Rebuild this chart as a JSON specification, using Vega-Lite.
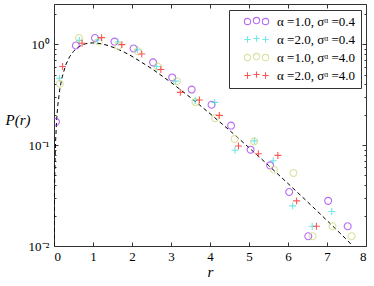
{
  "$schema": "https://vega.github.io/schema/vega-lite/v6.json",
  "autosize": {"type": "none"},
  "width": 312,
  "height": 242,
  "padding": {"left": 54, "top": 4, "right": 8, "bottom": 40},
  "background": "white",
  "config": {
    "view": {"stroke": "#333", "strokeWidth": 1},
    "font": "Liberation Serif",
    "axis": {
      "grid": false,
      "domain": false,
      "tickColor": "#333",
      "labelFont": "Liberation Serif",
      "labelFontSize": 13,
      "labelColor": "#000",
      "titleFont": "Liberation Serif",
      "titleFontSize": 15,
      "titleFontWeight": "normal",
      "titleFontStyle": "italic",
      "titleColor": "#000"
    },
    "legend": {
      "labelFont": "Liberation Serif",
      "labelFontSize": 13,
      "labelColor": "#000"
    }
  },
  "datasets": {
    "curve": [
      {"r": 0.0036, "P": 0.01},
      {"r": 0.01, "P": 0.0277},
      {"r": 0.02, "P": 0.0549},
      {"r": 0.04, "P": 0.1076},
      {"r": 0.07, "P": 0.1827},
      {"r": 0.1, "P": 0.2534},
      {"r": 0.15, "P": 0.3615},
      {"r": 0.2, "P": 0.4585},
      {"r": 0.3, "P": 0.6223},
      {"r": 0.4, "P": 0.7508},
      {"r": 0.5, "P": 0.8491},
      {"r": 0.6, "P": 0.922},
      {"r": 0.7, "P": 0.9733},
      {"r": 0.8, "P": 1.0065},
      {"r": 0.9, "P": 1.0247},
      {"r": 1.0, "P": 1.0301},
      {"r": 1.2, "P": 1.012},
      {"r": 1.4, "P": 0.9667},
      {"r": 1.6, "P": 0.9045},
      {"r": 1.8, "P": 0.8331},
      {"r": 2.0, "P": 0.7579},
      {"r": 2.5, "P": 0.5746},
      {"r": 3.0, "P": 0.4182},
      {"r": 3.5, "P": 0.2959},
      {"r": 4.0, "P": 0.2051},
      {"r": 4.5, "P": 0.14},
      {"r": 5.0, "P": 0.0943},
      {"r": 5.5, "P": 0.0629},
      {"r": 6.0, "P": 0.0416},
      {"r": 6.5, "P": 0.0274},
      {"r": 7.0, "P": 0.0179},
      {"r": 7.5, "P": 0.0116},
      {"r": 7.66, "P": 0.01}
    ],
    "pts": [
      {"s": "α =1.0, σᵅ =0.4", "a": 1, "r": 0.05, "P": 0.17},
      {"s": "α =1.0, σᵅ =0.4", "a": 1, "r": 0.56, "P": 0.97},
      {"s": "α =1.0, σᵅ =0.4", "a": 1, "r": 1.05, "P": 1.15},
      {"s": "α =1.0, σᵅ =0.4", "a": 1, "r": 1.55, "P": 1.06},
      {"s": "α =1.0, σᵅ =0.4", "a": 1, "r": 2.04, "P": 0.905},
      {"s": "α =1.0, σᵅ =0.4", "a": 1, "r": 2.54, "P": 0.66},
      {"s": "α =1.0, σᵅ =0.4", "a": 1, "r": 3.03, "P": 0.468},
      {"s": "α =1.0, σᵅ =0.4", "a": 1, "r": 3.53, "P": 0.355},
      {"s": "α =1.0, σᵅ =0.4", "a": 1, "r": 4.04, "P": 0.251},
      {"s": "α =1.0, σᵅ =0.4", "a": 1, "r": 4.54, "P": 0.156},
      {"s": "α =1.0, σᵅ =0.4", "a": 1, "r": 5.04, "P": 0.09},
      {"s": "α =1.0, σᵅ =0.4", "a": 1, "r": 5.54, "P": 0.063},
      {"s": "α =1.0, σᵅ =0.4", "a": 1, "r": 6.03, "P": 0.0343},
      {"s": "α =1.0, σᵅ =0.4", "a": 1, "r": 6.52, "P": 0.0125},
      {"s": "α =1.0, σᵅ =0.4", "a": 1, "r": 7.03, "P": 0.028},
      {"s": "α =1.0, σᵅ =0.4", "a": 1, "r": 7.53, "P": 0.0157},
      {"s": "α =2.0, σᵅ =0.4", "a": 2, "r": 0.14, "P": 0.46},
      {"s": "α =2.0, σᵅ =0.4", "a": 2, "r": 0.65, "P": 1.09},
      {"s": "α =2.0, σᵅ =0.4", "a": 2, "r": 1.12, "P": 1.1},
      {"s": "α =2.0, σᵅ =0.4", "a": 2, "r": 1.64, "P": 1.05},
      {"s": "α =2.0, σᵅ =0.4", "a": 2, "r": 2.14, "P": 0.88},
      {"s": "α =2.0, σᵅ =0.4", "a": 2, "r": 2.63, "P": 0.6},
      {"s": "α =2.0, σᵅ =0.4", "a": 2, "r": 3.12, "P": 0.43},
      {"s": "α =2.0, σᵅ =0.4", "a": 2, "r": 3.62, "P": 0.277},
      {"s": "α =2.0, σᵅ =0.4", "a": 2, "r": 4.12, "P": 0.265},
      {"s": "α =2.0, σᵅ =0.4", "a": 2, "r": 4.64, "P": 0.089},
      {"s": "α =2.0, σᵅ =0.4", "a": 2, "r": 5.14, "P": 0.11},
      {"s": "α =2.0, σᵅ =0.4", "a": 2, "r": 5.62, "P": 0.07},
      {"s": "α =2.0, σᵅ =0.4", "a": 2, "r": 6.12, "P": 0.025},
      {"s": "α =2.0, σᵅ =0.4", "a": 2, "r": 6.62, "P": 0.0157},
      {"s": "α =2.0, σᵅ =0.4", "a": 2, "r": 7.12, "P": 0.022},
      {"s": "α =1.0, σᵅ =4.0", "a": 1, "r": 0.15, "P": 0.405},
      {"s": "α =1.0, σᵅ =4.0", "a": 1, "r": 0.64, "P": 1.15},
      {"s": "α =1.0, σᵅ =4.0", "a": 1, "r": 1.15, "P": 1.06},
      {"s": "α =1.0, σᵅ =4.0", "a": 1, "r": 1.65, "P": 0.96},
      {"s": "α =1.0, σᵅ =4.0", "a": 1, "r": 2.15, "P": 0.85},
      {"s": "α =1.0, σᵅ =4.0", "a": 1, "r": 2.66, "P": 0.6},
      {"s": "α =1.0, σᵅ =4.0", "a": 1, "r": 3.15, "P": 0.43},
      {"s": "α =1.0, σᵅ =4.0", "a": 1, "r": 3.63, "P": 0.267},
      {"s": "α =1.0, σᵅ =4.0", "a": 1, "r": 4.13, "P": 0.185},
      {"s": "α =1.0, σᵅ =4.0", "a": 1, "r": 4.63, "P": 0.115},
      {"s": "α =1.0, σᵅ =4.0", "a": 1, "r": 5.13, "P": 0.109},
      {"s": "α =1.0, σᵅ =4.0", "a": 1, "r": 5.64, "P": 0.057},
      {"s": "α =1.0, σᵅ =4.0", "a": 1, "r": 6.14, "P": 0.053},
      {"s": "α =1.0, σᵅ =4.0", "a": 1, "r": 6.63, "P": 0.0125},
      {"s": "α =1.0, σᵅ =4.0", "a": 1, "r": 7.14, "P": 0.0157},
      {"s": "α =1.0, σᵅ =4.0", "a": 1, "r": 7.63, "P": 0.0125},
      {"s": "α =2.0, σᵅ =4.0", "a": 2, "r": 0.22, "P": 0.6},
      {"s": "α =2.0, σᵅ =4.0", "a": 2, "r": 0.72, "P": 1.02},
      {"s": "α =2.0, σᵅ =4.0", "a": 2, "r": 1.22, "P": 1.16},
      {"s": "α =2.0, σᵅ =4.0", "a": 2, "r": 1.74, "P": 0.99},
      {"s": "α =2.0, σᵅ =4.0", "a": 2, "r": 2.25, "P": 0.8},
      {"s": "α =2.0, σᵅ =4.0", "a": 2, "r": 2.74, "P": 0.56},
      {"s": "α =2.0, σᵅ =4.0", "a": 2, "r": 3.24, "P": 0.333},
      {"s": "α =2.0, σᵅ =4.0", "a": 2, "r": 3.73, "P": 0.28},
      {"s": "α =2.0, σᵅ =4.0", "a": 2, "r": 4.24, "P": 0.197},
      {"s": "α =2.0, σᵅ =4.0", "a": 2, "r": 4.73, "P": 0.098},
      {"s": "α =2.0, σᵅ =4.0", "a": 2, "r": 5.24, "P": 0.082},
      {"s": "α =2.0, σᵅ =4.0", "a": 2, "r": 5.74, "P": 0.079},
      {"s": "α =2.0, σᵅ =4.0", "a": 2, "r": 6.22, "P": 0.028},
      {"s": "α =2.0, σᵅ =4.0", "a": 2, "r": 6.73, "P": 0.0157}
    ]
  },
  "resolve": {"axis": {"x": "independent", "y": "independent"}},
  "layer": [
    {
      "data": {"name": "curve"},
      "mark": {"type": "line", "color": "#000", "strokeWidth": 1, "strokeDash": [4, 3], "clip": true},
      "encoding": {
        "x": {
          "field": "r", "type": "quantitative",
          "scale": {"domain": [0, 8], "nice": false, "zero": false},
          "axis": {
            "orient": "bottom", "title": "r", "values": [0, 1, 2, 3, 4, 5, 6, 7, 8],
            "tickSize": -4, "labelPadding": 8, "titleY": 30, "titleBaseline": "alphabetic"
          }
        },
        "y": {
          "field": "P", "type": "quantitative",
          "scale": {"type": "log", "domain": [0.01, 2.5], "nice": false},
          "axis": {
            "orient": "left", "title": "P(r)",
            "values": [0.01, 0.02, 0.03, 0.04, 0.05, 0.06, 0.07, 0.08, 0.09, 0.1, 0.2, 0.3, 0.4, 0.5, 0.6, 0.7, 0.8, 0.9, 1, 2],
            "labelExpr": "datum.value == 1 ? '10⁰' : datum.value == 0.1 ? '10⁻¹' : datum.value == 0.01 ? '10⁻²' : ''",
            "tickSize": {"condition": {"test": "datum.value == 1 || datum.value == 0.1 || datum.value == 0.01", "value": -4}, "value": -2},
            "labelPadding": 9,
            "titleAngle": 0, "titleX": -49, "titleY": 115, "titleAlign": "left", "titleBaseline": "middle"
          }
        }
      }
    },
    {
      "data": {"name": "pts"},
      "mark": {"type": "point", "filled": false, "strokeWidth": 1.1, "size": 48, "clip": true},
      "encoding": {
        "x": {
          "field": "r", "type": "quantitative",
          "axis": {"orient": "top", "title": null, "labels": false, "values": [0, 1, 2, 3, 4, 5, 6, 7, 8], "tickSize": -4}
        },
        "y": {
          "field": "P", "type": "quantitative",
          "axis": {
            "orient": "right", "title": null, "labels": false,
            "values": [0.01, 0.02, 0.03, 0.04, 0.05, 0.06, 0.07, 0.08, 0.09, 0.1, 0.2, 0.3, 0.4, 0.5, 0.6, 0.7, 0.8, 0.9, 1, 2],
            "tickSize": {"condition": {"test": "datum.value == 1 || datum.value == 0.1 || datum.value == 0.01", "value": -4}, "value": -2}
          }
        },
        "color": {
          "field": "s", "type": "nominal",
          "scale": {
            "domain": ["α =1.0, σᵅ =0.4", "α =2.0, σᵅ =0.4", "α =1.0, σᵅ =4.0", "α =2.0, σᵅ =4.0"],
            "range": ["#9a2ef0", "#33dde0", "#cfd67a", "#ff1010"]
          },
          "legend": {
            "title": null, "orient": "none", "legendX": 175, "legendY": 6,
            "strokeColor": "#333", "fillColor": "white", "padding": 5,
            "rowPadding": 4, "symbolSize": 40, "symbolStrokeWidth": 1.1,
            "symbolOffset": 10, "labelOffset": 20,
            "symbolType": {"expr": "indexof(datum.value, 'α =2.0') >= 0 ? 'M-1.95,0H0.05M-0.95,-1V1M0.9,-0.3H2.9M1.9,-1.3V0.7M3.75,0H5.75M4.75,-1V1' : 'M0.05,0A1,1 0 1,1 -1.95,0A1,1 0 1,1 0.05,0M2.9,-0.3A1,1 0 1,1 0.9,-0.3A1,1 0 1,1 2.9,-0.3M5.75,0A1,1 0 1,1 3.75,0A1,1 0 1,1 5.75,0'"}
          }
        },
        "shape": {
          "field": "a", "type": "nominal",
          "scale": {"domain": [1, 2], "range": ["circle", "M-1,0H1M0,-1V1"]},
          "legend": null
        }
      }
    }
  ]
}
